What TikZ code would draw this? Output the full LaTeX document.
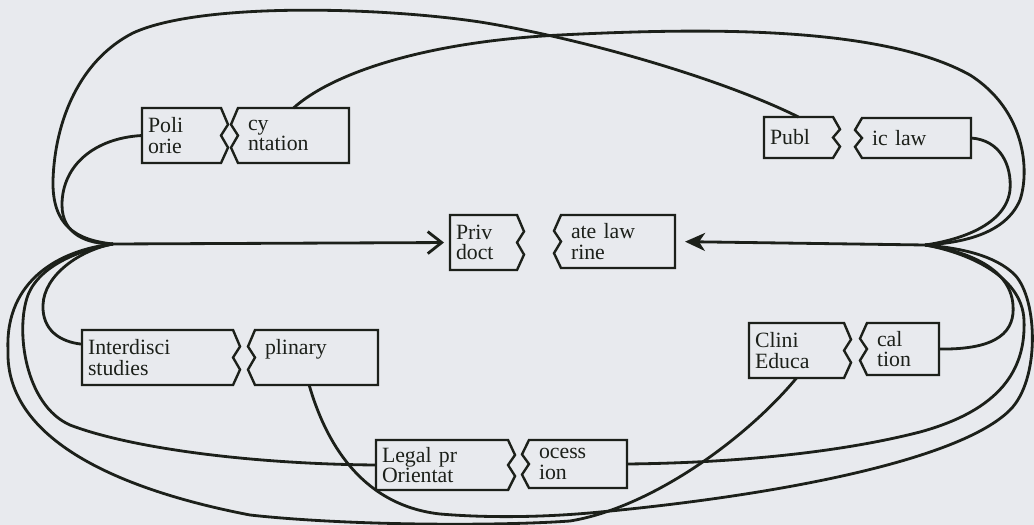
\documentclass[tikz,border=0pt]{standalone}
\usepackage{fontspec}
\setmainfont{Liberation Serif}
\usetikzlibrary{arrows.meta,calc}
\definecolor{ink}{RGB}{28,32,26}
\definecolor{paper}{RGB}{232,234,238}

% torn halves of a box: the left piece has its tear on the right, and the other way round
\newcommand\leftpiece[1]{%
  \draw[boxline] (#1.south east) -- (#1.south west) -- (#1.north west) -- (#1.north east)
    -- ($(#1.north east)!.3!(#1.south east)+(7,0)$) -- ($(#1.north east)!.5!(#1.south east)$)
    -- ($(#1.north east)!.72!(#1.south east)+(7,0)$) -- cycle;}
\newcommand\rightpiece[1]{%
  \draw[boxline] (#1.south west) -- (#1.south east) -- (#1.north east) -- (#1.north west)
    -- ($(#1.north west)!.3!(#1.south west)+(-7,0)$) -- ($(#1.north west)!.5!(#1.south west)$)
    -- ($(#1.north west)!.72!(#1.south west)+(-7,0)$) -- cycle;}

\begin{document}
\begin{tikzpicture}%
    [x=0.025cm, y=-0.025cm,
    color=ink,
    lhalf/.style 2 args={anchor=north west, text width=#1cm, minimum height=#2cm,
      inner xsep=0.15cm, outer sep=0pt, align=left, font=\fontsize{15.5}{14.5}\selectfont},
    rhalf/.style 2 args={lhalf={#1}{#2}, inner xsep=0.25cm},
    boxline/.style={line width=1.7pt, line join=miter},
    wire/.style={line width=2pt}
    ]
    \useasboundingbox (0,0) rectangle (1034,525);
    \fill[paper] (0,0) rectangle (1034,525);

    \node[lhalf={1.675}{1.375}] (polL)   at (142,108) {Poli\\orie};
    \node[rhalf={2.275}{1.375}] (polR)   at (238,108) {cy\\ntation};
    \node[lhalf={1.425}{1.025}] (pubL)   at (764,117) {Publ};
    \node[rhalf={2.225}{1.0}]   (pubR)   at (862,118) {ic law};
    \node[lhalf={1.375}{1.375}] (privL)  at (450,215) {Priv\\doct};
    \node[rhalf={2.35}{1.325}]  (privR)  at (561,215) {ate law\\rine};
    \node[lhalf={3.475}{1.375}] (interL) at (82,330)  {Interdisci\\studies};
    \node[rhalf={2.575}{1.375}] (interR) at (255,330) {plinary\\\mbox{}};
    \node[lhalf={3.0}{1.25}]    (legL)   at (376,440) {Legal pr\\Orientat};
    \node[rhalf={1.95}{1.2}]    (legR)   at (529,440) {ocess\\ion};
    \node[lhalf={2.075}{1.375}] (clinL)  at (749,323) {Clini\\Educa};
    \node[rhalf={1.3}{1.3}]     (clinR)  at (867,323) {cal\\tion};

    \foreach \n in {polL,pubL,privL,interL,legL,clinL} {\leftpiece{\n}}
    \foreach \n in {polR,pubR,privR,interR,legR,clinR} {\rightpiece{\n}}

    \coordinate (J1) at (113,244);
    \coordinate (J2) at (925,245);

    % the two arrows into the core
    \draw[wire, -{Straight Barb[length=3.5mm,width=5.5mm]}, shorten >=1.5mm] (J1) -- (privL.west);
    \draw[wire, -{Stealth[length=5mm,width=4.5mm,inset=1.5mm]}, shorten >=2.5mm] (J2) -- (privR.east);

    % FROM          CURVE                                                        TO
    \draw[wire] (polL.west) .. controls (95,138) and (62,165) .. (62,205)
                .. controls (62,235) and (88,244) .. (J1);
    \draw[wire] (pubL.north) .. controls (720,78) and (580,38) .. (480,22)
                .. controls (380,7) and (200,2) .. (133,33)
                .. controls (80,60) and (55,120) .. (53,180)
                .. controls (52,225) and (75,240) .. (J1);
    \draw[wire] (interL.170) .. controls (60,342) and (42,330) .. (43,305)
                .. controls (44,275) and (80,250) .. (J1);
    \draw[wire] (legL.west) .. controls (250,464) and (130,448) .. (70,425)
                .. controls (25,405) and (15,330) .. (28,295)
                .. controls (40,265) and (80,250) .. (J1);
    \draw[wire] (J1) .. controls (60,250) and (5,280) .. (8,350)
                .. controls (5,440) and (120,490) .. (250,515)
                .. controls (350,526) and (500,526) .. (570,521)
                .. controls (650,508) and (745,440) .. (clinL.south);
    \draw[wire] (polR.north) .. controls (330,75) and (420,42) .. (560,35)
                .. controls (700,28) and (880,25) .. (970,75)
                .. controls (1025,110) and (1030,170) .. (1020,200)
                .. controls (1005,235) and (960,243) .. (J2);
    \draw[wire] (pubR.east) .. controls (1000,140) and (1012,165) .. (1010,190)
                .. controls (1006,225) and (960,240) .. (J2);
    \draw[wire] (clinR.east) .. controls (1000,350) and (1015,330) .. (1013,305)
                .. controls (1010,265) and (960,250) .. (J2);
    \draw[wire] (legR.east) .. controls (720,463) and (830,455) .. (920,432)
                .. controls (1000,410) and (1026,370) .. (1024,320)
                .. controls (1022,275) and (965,252) .. (J2);
    \draw[wire] (interR.-105) .. controls (325,440) and (360,505) .. (440,514)
                .. controls (500,519) and (560,516) .. (600,512)
                .. controls (780,495) and (960,460) .. (1010,410)
                .. controls (1040,380) and (1038,300) .. (1015,275)
                .. controls (995,255) and (960,248) .. (J2);
\end{tikzpicture}
\end{document}
